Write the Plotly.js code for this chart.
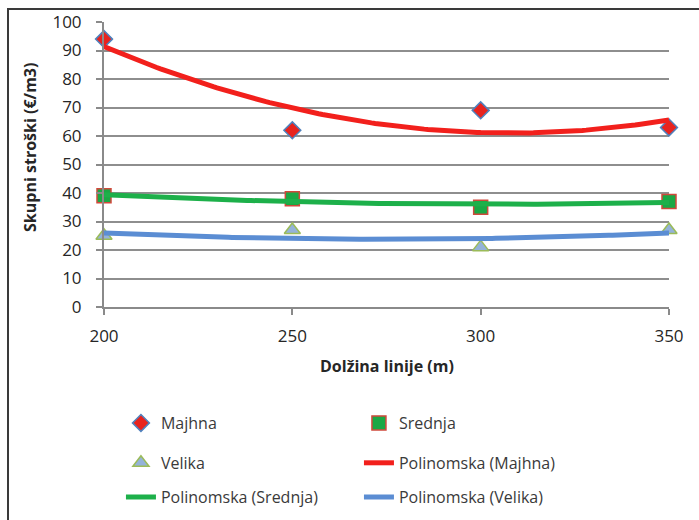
<!DOCTYPE html>
<html>
<head>
<meta charset="utf-8">
<script src="https://cdn.plot.ly/plotly-3.0.1.min.js"></script>
<style>
  html, body { margin: 0; padding: 0; background: #ffffff; }
  #wrap { position: relative; width: 699px; height: 520px; }
  #chart { position: absolute; left: 0; top: 0; width: 699px; height: 520px; }
  #frame { position: absolute; left: 7px; top: 8px; right: 0; bottom: 0;
           border-left: 2px solid #3a3a3a; border-top: 2px solid #3a3a3a; pointer-events: none; }
</style>
</head>
<body>
<div id="wrap">
  <div id="chart"></div>
  <div id="frame"></div>
</div>
<script>
// Line length (m) and total costs (EUR/m3) per pipe size class
const lengths = [200, 250, 300, 350];
const majhna  = [94, 62, 69, 63];
const srednja = [39, 38, 35, 37];
const velika  = [25, 27, 21, 27];

const seriesNames = ['Majhna', 'Srednja', 'Velika'];
const trendNames  = ['Polinomska (Majhna)', 'Polinomska (Srednja)', 'Polinomska (Velika)'];

const xTicks = [200, 250, 300, 350];
const yTicks = [0, 10, 20, 30, 40, 50, 60, 70, 80, 90, 100];

// Second-order least-squares trend line through a series
function quadFit(xs, ys) {
  const n = xs.length;
  const s = [0, 0, 0, 0, 0], t = [0, 0, 0];
  for (let i = 0; i < n; i++) {
    let p = 1;
    for (let k = 0; k <= 4; k++) { s[k] += p; if (k <= 2) t[k] += p * ys[i]; p *= xs[i]; }
  }
  const A = [[s[0], s[1], s[2], t[0]], [s[1], s[2], s[3], t[1]], [s[2], s[3], s[4], t[2]]];
  for (let c = 0; c < 3; c++) {
    for (let r = c + 1; r < 3; r++) {
      const f = A[r][c] / A[c][c];
      for (let k = c; k < 4; k++) A[r][k] -= f * A[c][k];
    }
  }
  const b = [0, 0, 0];
  for (let r = 2; r >= 0; r--) {
    let v = A[r][3];
    for (let k = r + 1; k < 3; k++) v -= A[r][k] * b[k];
    b[r] = v / A[r][r];
  }
  return x => b[0] + b[1] * x + b[2] * x * x;
}

function trendTrace(ys, name, color, legendId) {
  const f = quadFit(lengths, ys);
  const x0 = lengths[0], x1 = lengths[lengths.length - 1];
  const xs = [], yv = [];
  for (let x = x0; x <= x1; x += 1) { xs.push(x); yv.push(f(x)); }
  return {
    x: xs, y: yv, type: 'scatter', mode: 'lines', name: name,
    line: { color: color, width: 5 }, legend: legendId, cliponaxis: false
  };
}

const traces = [
  { x: lengths, y: majhna, type: 'scatter', mode: 'markers', name: seriesNames[0], legend: 'legend',
    cliponaxis: false,
    marker: { symbol: 'diamond', size: 13, color: '#e8231e', line: { color: '#4f81bd', width: 1.5 } } },
  { x: lengths, y: srednja, type: 'scatter', mode: 'markers', name: seriesNames[1], legend: 'legend',
    cliponaxis: false,
    marker: { symbol: 'square', size: 14, color: '#1aa845', line: { color: '#d0493c', width: 1.5 } } },
  { x: lengths, y: velika, type: 'scatter', mode: 'markers', name: seriesNames[2], legend: 'legend2',
    cliponaxis: false,
    marker: { symbol: 'triangle-up', size: 14, color: '#94b3d9', line: { color: '#9bbb59', width: 1.5 } } },
  trendTrace(majhna, trendNames[0], '#f2201c', 'legend2'),
  trendTrace(srednja, trendNames[1], '#1db04a', 'legend3'),
  trendTrace(velika, trendNames[2], '#5b8dd3', 'legend3')
];

const fontFam = '"Open Sans", "DejaVu Sans", sans-serif';
const legendBase = {
  orientation: 'h', xanchor: 'left', yanchor: 'middle', x: 0.03,
  entrywidth: 193, entrywidthmode: 'pixels',
  font: { family: fontFam, size: 16, color: '#3a3a3a' },
  bgcolor: 'rgba(0,0,0,0)', traceorder: 'normal'
};

const layout = {
  width: 699, height: 520,
  margin: { l: 104, r: 30, t: 22, b: 213, autoexpand: false },
  paper_bgcolor: '#ffffff', plot_bgcolor: '#ffffff',
  font: { family: fontFam, color: '#262626' },
  xaxis: {
    range: [200, 350], tickvals: xTicks, ticktext: xTicks.map(String),
    showgrid: false, zeroline: false,
    showline: true, linecolor: '#8a8a8a', linewidth: 2,
    ticks: 'outside', ticklen: 6, tickwidth: 2, tickcolor: '#8a8a8a',
    tickfont: { size: 17, color: '#262626' }, ticklabelstandoff: 7
  },
  yaxis: {
    range: [0, 100], tickvals: yTicks, ticktext: yTicks.map(String),
    showgrid: true, gridcolor: '#8e8e8e', gridwidth: 2, zeroline: false,
    showline: true, linecolor: '#8a8a8a', linewidth: 2,
    ticks: 'outside', ticklen: 6, tickwidth: 2, tickcolor: '#8a8a8a',
    tickfont: { size: 17, color: '#262626' }, ticklabelstandoff: 11
  },
  showlegend: true,
  legend:  Object.assign({}, legendBase, { y: -0.407 }),
  legend2: Object.assign({}, legendBase, { y: -0.547 }),
  legend3: Object.assign({}, legendBase, { y: -0.667 }),
  annotations: [
    { text: '<b>Skupni stroški (€/m3)</b>', xref: 'paper', yref: 'paper', x: -0.13, y: 0.56,
      textangle: -90, showarrow: false, xanchor: 'center', yanchor: 'middle',
      font: { family: fontFam, size: 16, color: '#262626' } },
    { text: '<b>Dolžina linije (m)</b>', xref: 'paper', yref: 'paper', x: 0.5, y: -0.207,
      showarrow: false, xanchor: 'center', yanchor: 'middle',
      font: { family: fontFam, size: 16, color: '#262626' } }
  ]
};

Plotly.newPlot('chart', traces, layout, { displayModeBar: false, staticPlot: true });
</script>
</body>
</html>
